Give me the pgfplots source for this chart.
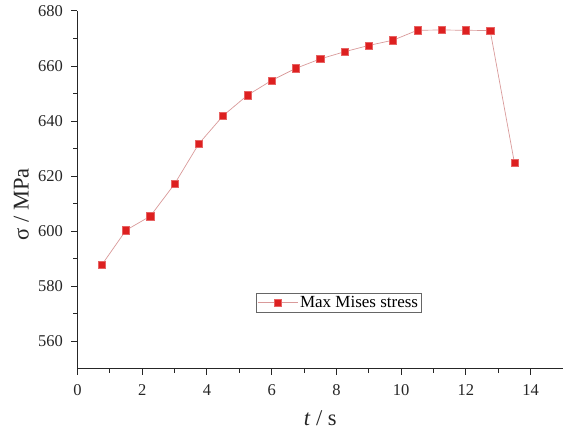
\documentclass[border=0pt]{standalone}
\usepackage{pgfplots}
\pgfplotsset{compat=1.18}
\usepackage{fontspec}
\setmainfont{Liberation Serif}
\definecolor{mred}{HTML}{DD2020}
\definecolor{lpink}{HTML}{D99A9A}
\begin{document}
\begin{tikzpicture}
\begin{axis}[
  scale only axis, width=485.5pt, height=358pt,
  xmin=0, xmax=15, ymin=550, ymax=680,
  axis lines=left, axis line style={-, line width=1pt, black!85},
  xtick={0,2,...,14}, ytick={560,580,...,680},
  minor x tick num=1, minor y tick num=1,
  tick align=outside, major tick length=6pt, minor tick length=4pt,
  tick style={line width=1pt, black!85},
  ticklabel style={font=\fontsize{16.5}{16.5}\selectfont, text=black!85},
  xticklabel style={yshift=-6pt},
  yticklabel style={xshift=-5pt},
  /pgf/number format/assume math mode=true,
  xlabel={\textit{t} / s}, ylabel={σ / MPa},
  label style={font=\fontsize{22.5}{22.5}\selectfont, text=black!85},
  ylabel style={at={(axis description cs:-0.1155,0.46)}, anchor=center},
  xlabel style={at={(axis description cs:0.5,-0.137)}, anchor=center},
  legend style={at={(0.368,0.159)}, anchor=south west, draw=black!60,
    inner sep=1pt, font=\fontsize{17}{17}\selectfont, row sep=0pt},
  legend cell align=left,
  legend image code/.code={\draw[mark repeat=2,mark phase=2,#1] plot coordinates {(0pt,0pt) (20pt,0pt) (40pt,0pt)};},
]
\addplot[color=lpink, line width=0.7pt, mark=square*, mark size=3.6pt,
  mark options={fill=mred, draw=mred!70!white, line width=0.5pt}]
coordinates {
(0.75,587.8) (1.5,600.4) (2.25,605.5) (3,617.2) (3.75,631.8) (4.5,642.0)
(5.25,649.4) (6,654.8) (6.75,659.2) (7.5,662.6) (8.25,665.2) (9,667.5)
(9.75,669.4) (10.5,673.0) (11.25,673.1) (12,673.0) (12.75,672.9) (13.5,624.8)
};
\addlegendentry{Max Mises stress}
\end{axis}
\pgfresetboundingbox
\path[use as bounding box] (-77.5pt,-62pt) rectangle (485.5pt,369pt);
\end{tikzpicture}
\end{document}
